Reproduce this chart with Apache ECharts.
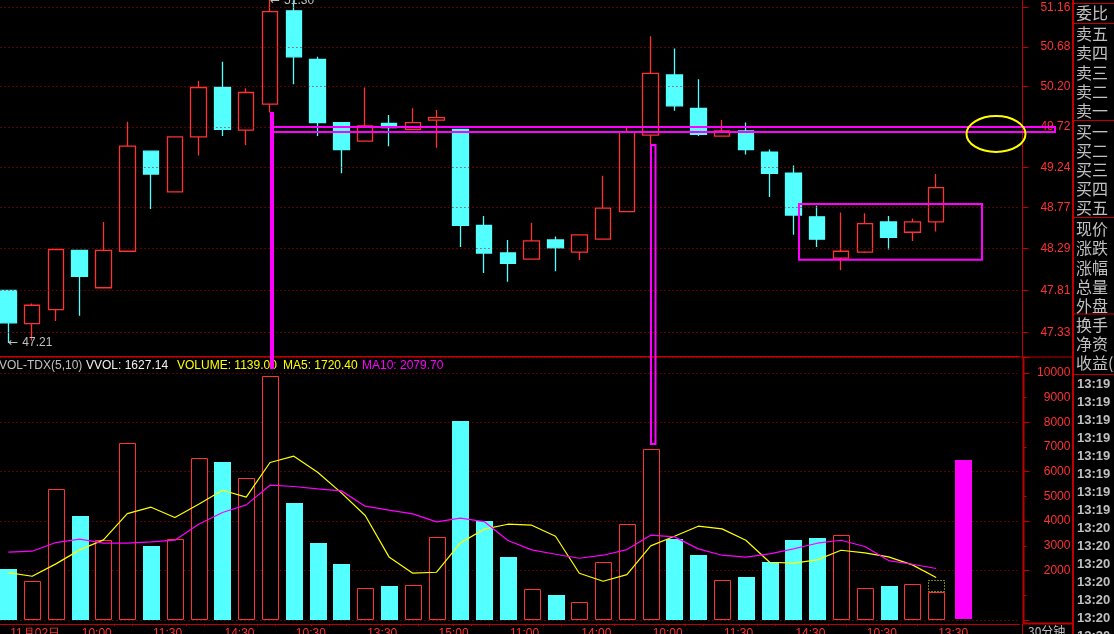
<!DOCTYPE html>
<html>
<head>
<meta charset="utf-8">
<title>VOL-TDX</title>
<script src="https://cdn.jsdelivr.net/npm/echarts@6/dist/echarts.min.js"></script>
<style>
html, body { margin: 0; padding: 0; background: #000; overflow: hidden; }
#chart { width: 1114px; height: 634px; }
</style>
</head>
<body>
<div id="chart"></div>
<script>
// open, close, low, high
var candles = [
    [47.81,47.44,47.21,47.81],[47.43,47.64,47.24,47.66],[47.59,48.28,47.46,48.28],[48.27,47.97,47.52,48.27],
    [47.84,48.27,47.84,48.60],[48.26,49.49,48.25,49.78],[49.43,49.16,48.75,49.43],[48.95,49.60,48.95,49.60],
    [49.60,50.19,49.38,50.27],[50.19,49.69,49.61,50.50],[49.68,50.13,49.50,50.18],[49.99,51.11,49.89,51.30],
    [51.12,50.56,50.23,51.25],[50.53,49.77,49.61,50.56],[49.77,49.45,49.17,49.77],[49.55,49.73,49.55,50.19],
    [49.76,49.71,49.49,49.86],[49.69,49.77,49.69,49.94],[49.80,49.83,49.47,49.92],[49.69,48.56,48.31,49.69],
    [48.56,48.24,48.01,48.67],[48.24,48.12,47.91,48.39],[48.17,48.38,48.17,48.59],[48.39,48.30,48.03,48.43],
    [48.25,48.45,48.16,48.45],[48.40,48.76,48.40,49.14],[48.72,49.66,48.72,49.71],[49.62,50.36,49.51,50.81],
    [50.34,49.97,49.91,50.66],[49.94,49.63,49.61,50.29],[49.61,49.67,49.61,49.80],[49.67,49.45,49.39,49.77],
    [49.42,49.17,48.89,49.45],[49.17,48.68,48.45,49.26],[48.66,48.40,48.31,48.79],[48.18,48.26,48.04,48.71],
    [48.25,48.58,48.24,48.70],[48.60,48.42,48.28,48.67],[48.48,48.60,48.38,48.64],[48.60,49.00,48.49,49.16]
];
var volumes = [2065,1566,5292,4212,3226,7155,2997,3267,6547,6399,5737,9868,4738,3118,2268,1282,1377,1404,3348,8059,
    4009,2551,1242,1012,715,2335,3874,6912,3280,2632,1606,1741,2349,3240,3321,3429,1282,1377,1444,1139];
var ma5 = [1917,1768,2268,2835,3240,4306,4563,4144,4684,5251,4968,6372,6628,5980,5143,4225,2551,1890,1930,3118,
    3672,3874,3834,3388,1890,1566,1836,2997,3388,3793,3685,3226,2335,2295,2430,2821,2713,2551,2227,1720];
var ma10 = [2740,2781,3132,3267,3105,3105,3159,3226,3874,4347,4657,5454,5400,5305,5224,4603,4441,4293,3969,4117,
    3982,3213,2835,2659,2497,2619,2848,3429,3361,2875,2619,2538,2673,2875,3105,3226,2970,2403,2254,2080];
var vvol = 1627.14;
var handBar = 6460;
var timeLabels = ["11月02日","","","10:00","","","11:30","","","14:30","","","10:30","","","13:30","","","15:00","","",
    "11:00","","","14:00","","","10:00","","","11:30","","","14:30","","","10:30","","","13:30","","",""];
var priceTicks = [51.16,50.68,50.20,49.72,49.24,48.77,48.29,47.81,47.33];
var volumeLabels = [10000,9000,8000,7000,6000,5000,4000,3000,2000];
var panelLabels = [["委比",13],["卖五",34],["卖四",53],["卖三",72.7],["卖二",91.7],["卖一",111],["买一",132],["买二",151],
    ["买三",170],["买四",189],["买五",208],["现价",229],["涨跌",248],["涨幅",267.7],["总量",286.7],["外盘",305.7],
    ["换手",325],["净资",344],["收益(季",363]];
var panelTimes = ["13:19","13:19","13:19","13:19","13:19","13:19","13:19","13:19",
    "13:20","13:20","13:20","13:20","13:20","13:20","13:20"];

var RED = "#ff3232", CYAN = "#54ffff", PINK = "#ff00ff", YELLOW = "#ffff00", GREY = "#c0c0c0";
var FRAME = "#c00000", DOT = "#b80000";
var FONT = "Liberation Sans", CJK = "Noto Sans CJK SC", ARROW = "DejaVu Sans";
var gridLeft = -3.56, gridWidth = 1023;

// small ticks between the time labels, on a hidden value axis in candle units
var smallTicks = [];
for (var k = 3; k < 39; k += 3) {
    smallTicks.push(k + 0.72, k + 1.47, k + 2.22);
}

var upVol = [], downVol = [];
volumes.forEach(function(v, i){
    (candles[i][1] >= candles[i][0] ? upVol : downVol).push([i, v]);
});
var vvolBar = [[volumes.length - 1, volumes[volumes.length - 1], vvol]];

function text(str, x, y, color, font, size, extra){
    var style = { text: str, x: x, y: y, fill: color, font: (extra || "") + " " + size + "px '" + font + "'", verticalAlign: "middle", align: "left" };
    return { type: "text", z: 20, silent: true, style: style };
}
function line(x1, y1, x2, y2, w){
    return { type: "line", z: 19, silent: true, shape: { x1: x1, y1: y1, x2: x2, y2: y2 }, style: { stroke: FRAME, lineWidth: w } };
}
function box(x, y, w, h){
    return { type: "rect", z: 21, silent: true, shape: { x: x, y: y, width: w, height: h }, style: { fill: "none", stroke: PINK, lineWidth: 2 } };
}

// pixel snapped volume bars, the reference has no anti-aliasing
function barRect(api, topIndex, baseValue){
    var top = api.coord([api.value(0), api.value(topIndex)]);
    var base = api.coord([api.value(0), baseValue]);
    return { left: Math.round(top[0] - 8), top: Math.round(top[1]), bottom: Math.round(base[1]) };
}
function hollowBar(params, api){
    var r = barRect(api, 1, 0);
    return { type: "rect", shape: { x: r.left + 0.5, y: r.top + 0.5, width: 16, height: r.bottom - r.top - 1 },
        style: { fill: "#000", stroke: RED, lineWidth: 1 } };
}
function solidBar(params, api){
    var r = barRect(api, 1, 0);
    return { type: "rect", shape: { x: r.left, y: r.top, width: 17, height: r.bottom - r.top }, style: { fill: CYAN } };
}
function dottedBar(params, api){
    var r = barRect(api, 2, api.value(1));
    return { type: "rect", shape: { x: r.left + 0.5, y: r.top + 0.5, width: 16, height: r.bottom - r.top - 1 },
        style: { fill: "none", stroke: YELLOW, lineWidth: 1, lineDash: [1, 2] } };
}
function pinkBar(params, api){
    var r = barRect(api, 1, 0);
    return { type: "rect", shape: { x: r.left + 3, y: r.top, width: 17, height: r.bottom - r.top - 1 }, style: { fill: PINK } };
}

var graphics = [
    // right panel frame
    line(1073, 0, 1073, 634, 2),
    line(1073, 3.5, 1114, 3.5, 1), line(1073, 23.5, 1114, 23.5, 1), line(1073, 120.5, 1114, 120.5, 1),
    line(1073, 217.5, 1114, 217.5, 1), line(1073, 314, 1114, 314, 1), line(1073, 374.5, 1114, 374.5, 1),
    line(0, 357, 1073, 357, 1), line(1023.5, 357, 1023.5, 624, 2), line(1022.5, 624, 1022.5, 634, 1),
    line(1023, 623.5, 1073, 623.5, 2),
    // legend
    text("VOL-TDX(5,10)", -1, 366, GREY, FONT, 12),
    text("VVOL: 1627.14", 86, 366, "#f0f0f0", FONT, 12),
    text("VOLUME: 1139.00", 177, 366, YELLOW, FONT, 12),
    text("MA5: 1720.40", 283, 366, YELLOW, FONT, 12),
    text("MA10: 2079.70", 362, 366, PINK, FONT, 12),
    text("30分钟", 1028, 631, GREY, CJK, 12),
    // hand drawn marks
    { type: "rect", z: 21, silent: true, shape: { x: 270, y: 112, width: 4, height: 257 }, style: { fill: PINK } },
    box(271.5, 127, 783.5, 5),
    box(651, 145, 4.5, 299),
    box(799, 204, 183, 55.7),
    { type: "ellipse", z: 22, silent: true, shape: { cx: 996, cy: 134, rx: 29.5, ry: 18 }, style: { fill: "none", stroke: YELLOW, lineWidth: 2 } }
];
panelLabels.forEach(function(p){ graphics.push(text(p[0], 1076, p[1], GREY, CJK, 16)); });
panelTimes.forEach(function(t, i){ graphics.push(text(t, 1077, 384 + i * 18, GREY, FONT, 13, "bold")); });

var extremeLabel = {
    show: true, position: "right", distance: 0, color: GREY,
    rich: {
        a: { fontFamily: ARROW, fontSize: 12, color: GREY, width: 14 },
        b: { fontFamily: FONT, fontSize: 12, color: GREY }
    }
};

var chart = echarts.init(document.getElementById("chart"));
chart.setOption({
    backgroundColor: "#000",
    animation: false,
    graphic: graphics,
    grid: [
        { left: gridLeft, width: gridWidth, top: 0.2, height: 356.3, outerBoundsMode: "none" },
        { left: gridLeft, width: gridWidth, top: 357.2, height: 262.7, outerBoundsMode: "none" }
    ],
    xAxis: [
        {
            type: "category", gridIndex: 0, data: timeLabels,
            axisLine: { lineStyle: { color: FRAME } }, axisTick: { show: false }, axisLabel: { show: false }
        },
        {
            type: "category", gridIndex: 1, data: timeLabels, offset: 4,
            axisLine: { onZero: false, lineStyle: { color: FRAME } },
            axisTick: { alignWithLabel: true, length: 10, lineStyle: { color: FRAME }, interval: function(i, v){ return v !== "" && i > 0; } },
            axisLabel: {
                color: RED, fontFamily: FONT, fontSize: 12, align: "left", margin: 4, padding: [0, 0, 0, 2],
                interval: function(i, v){ return v !== ""; }
            }
        },
        {
            type: "value", gridIndex: 1, position: "bottom", offset: 4, min: -0.5, max: 42.5,
            axisLine: { show: false, onZero: false }, splitLine: { show: false }, axisLabel: { show: false },
            axisTick: { show: true, length: 2, lineStyle: { color: FRAME }, customValues: smallTicks }
        }
    ],
    yAxis: [
        {
            type: "log", gridIndex: 0, position: "right", offset: 3, min: 47.059, max: 51.25,
            axisLine: { show: true, onZero: false, lineStyle: { color: FRAME } },
            axisTick: { show: true, length: 6, lineStyle: { color: FRAME }, customValues: priceTicks },
            axisLabel: {
                color: RED, fontFamily: FONT, fontSize: 12, align: "right", margin: 48, customValues: priceTicks,
                formatter: function(v){ return v.toFixed(2); }
            },
            splitLine: { show: false }
        },
        {
            type: "value", gridIndex: 1, position: "right", offset: 4, min: 0, max: 10636, interval: 2000,
            axisLine: { show: false, onZero: false },
            axisTick: { show: true, length: 6, lineStyle: { color: FRAME } },
            minorTick: { show: true, splitNumber: 2, length: 3, lineStyle: { color: FRAME } },
            axisLabel: { color: RED, fontFamily: FONT, fontSize: 12, align: "right", margin: 47, customValues: volumeLabels,
                formatter: function(v){ return String(v); } },
            splitLine: { show: true, lineStyle: { color: DOT, type: [1, 3], width: 1 } }
        }
    ],
    series: [
        {
            type: "candlestick", xAxisIndex: 0, yAxisIndex: 0, data: candles, barWidth: 16,
            itemStyle: { color: "#000", color0: CYAN, borderColor: RED, borderColor0: CYAN, borderWidth: 1.3 },
            markLine: {
                silent: true, symbol: "none", label: { show: false }, animation: false,
                lineStyle: { color: DOT, type: [1, 3], width: 1 },
                data: priceTicks.map(function(p){ return { yAxis: p }; })
            },
            markPoint: {
                silent: true, symbol: "circle", symbolSize: 0, animation: false,
                label: extremeLabel,
                data: [
                    { coord: [0, 47.21], label: { formatter: "{a|←}{b|47.21}" } },
                    { coord: [11, 51.24], label: { formatter: "{a|←}{b|51.30}" } }
                ]
            }
        },
        { type: "custom", xAxisIndex: 1, yAxisIndex: 1, data: upVol, z: 3, renderItem: hollowBar },
        { type: "custom", xAxisIndex: 1, yAxisIndex: 1, data: downVol, z: 3, renderItem: solidBar },
        { type: "custom", xAxisIndex: 1, yAxisIndex: 1, data: vvolBar, z: 3, renderItem: dottedBar },
        { type: "line", xAxisIndex: 1, yAxisIndex: 1, data: ma5, symbol: "none", z: 5, lineStyle: { color: YELLOW, width: 1.2 } },
        { type: "line", xAxisIndex: 1, yAxisIndex: 1, data: ma10, symbol: "none", z: 5, lineStyle: { color: PINK, width: 1.2 } },
        { type: "custom", xAxisIndex: 1, yAxisIndex: 1, data: [[40, handBar]], z: 6, renderItem: pinkBar }
    ]
});
</script>
</body>
</html>
